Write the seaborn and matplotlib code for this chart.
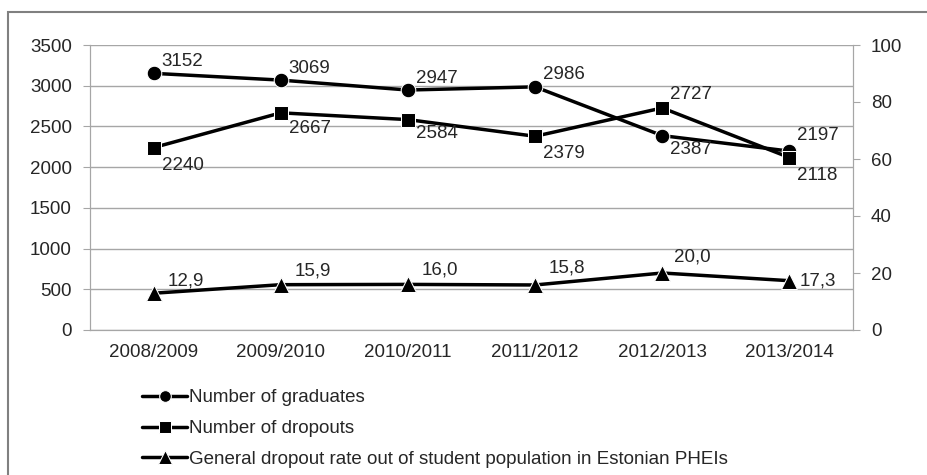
import pandas as pd
import seaborn as sns
import matplotlib.pyplot as plt
from matplotlib.patches import Rectangle

# academic years on the x axis
years = ["2008/2009", "2009/2010", "2010/2011", "2011/2012", "2012/2013", "2013/2014"]
graduates = [3152, 3069, 2947, 2986, 2387, 2197]
dropouts = [2240, 2667, 2584, 2379, 2727, 2118]
dropout_rate = [12.9, 15.9, 16.0, 15.8, 20.0, 17.3]

labels = ["Number of graduates", "Number of dropouts",
          "General dropout rate out of student population in Estonian PHEIs"]

df = pd.DataFrame({"year": years, "graduates": graduates,
                   "dropouts": dropouts, "rate": dropout_rate})
df["x"] = range(len(years))

FS = 13.5

sns.set_style("white")
plt.rcParams["font.family"] = ["Liberation Sans", "DejaVu Sans"]
plt.rcParams["font.size"] = FS

fig = plt.figure(figsize=(9.28, 4.75), dpi=100)
ax = fig.add_axes([90 / 928, 1 - 330 / 475, 763 / 928, 285 / 475])
ax2 = ax.twinx()

sns.lineplot(data=df, x="x", y="graduates", ax=ax, color="black", lw=2.5,
             marker="o", markersize=10.5, label=labels[0], legend=False)
sns.lineplot(data=df, x="x", y="dropouts", ax=ax, color="black", lw=2.5,
             marker="s", markersize=10.5, label=labels[1], legend=False)
sns.lineplot(data=df, x="x", y="rate", ax=ax2, color="black", lw=2.5,
             marker="^", markersize=12, label=labels[2], legend=False)

ax.set_xlim(-0.5, len(years) - 0.5)
ax.set_ylim(0, 3500)
ax.set_yticks(range(0, 3501, 500))
ax2.set_ylim(0, 100)
ax2.set_yticks(range(0, 101, 20))
ax.set_xticks(df["x"])
ax.set_xticklabels(years)
ax.set_xticks([i + 0.5 for i in range(-1, len(years))], minor=True)
ax.set_xlabel("")
ax.set_ylabel("")
ax2.set_ylabel("")

ax.grid(axis="y", color="#a6a6a6", lw=1)
for a in (ax, ax2):
    a.spines["top"].set_visible(False)
    for s in ("left", "right", "bottom"):
        a.spines[s].set_color("#a6a6a6")
ax.tick_params(axis="x", which="major", length=0, pad=10, labelsize=FS)
ax.tick_params(axis="x", which="minor", length=5, color="#a6a6a6")
ax.tick_params(axis="y", length=5, color="#a6a6a6", labelsize=FS, pad=8)
ax2.tick_params(axis="y", length=5, color="#a6a6a6", labelsize=FS, pad=8)

# value labels, offsets in pixels
grad_off = [(8, 12), (8, 12), (8, 12), (8, 12), (8, -14), (8, 16)]
drop_off = [(8, -18), (8, -16), (8, -14), (8, -17), (8, 13), (8, -18)]
rate_off = [(14, 12), (14, 14), (14, 14), (14, 17), (12, 16), (10, 0)]
for i in range(len(years)):
    ax.annotate(str(graduates[i]), (i, graduates[i]), xytext=grad_off[i],
                textcoords="offset pixels", va="center", ha="left", fontsize=FS)
    ax.annotate(str(dropouts[i]), (i, dropouts[i]), xytext=drop_off[i],
                textcoords="offset pixels", va="center", ha="left", fontsize=FS)
    ax2.annotate(f"{dropout_rate[i]:.1f}".replace(".", ","), (i, dropout_rate[i]),
                 xytext=rate_off[i], textcoords="offset pixels",
                 va="center", ha="left", fontsize=FS)

h1, l1 = ax.get_legend_handles_labels()
h2, l2 = ax2.get_legend_handles_labels()
fig.legend(h1 + h2, l1 + l2, loc="upper left", frameon=False,
           bbox_to_anchor=(133 / 928, 1 - 380 / 475), borderpad=0,
           handlelength=2.4, handletextpad=0.1, labelspacing=0.72,
           fontsize=FS, markerscale=0.8)

# outer frame of the chart (cut off at right and bottom)
fig.patches.append(Rectangle((8 / 928, -0.1), 1.2, 1.1 - 12 / 475,
                             transform=fig.transFigure, fill=False,
                             edgecolor="#808080", lw=1.5))

fig.savefig("out.png", dpi=100)
